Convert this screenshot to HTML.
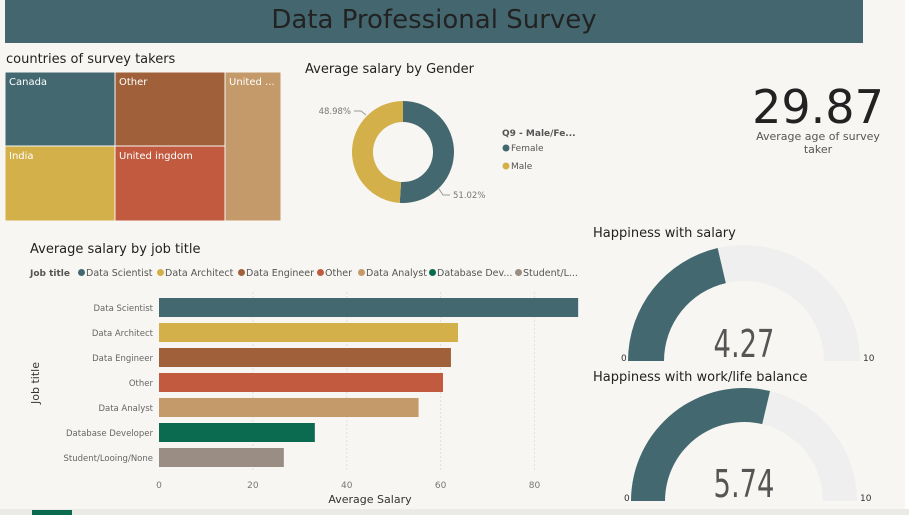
<!DOCTYPE html>
<html><head><meta charset="utf-8">
<style>
body{margin:0;width:909px;height:515px;background:#f7f6f2;overflow:hidden;font-family:"DejaVu Sans","Liberation Sans",sans-serif;position:relative}
.abs{position:absolute}
</style></head>
<body>
<div class="abs" style="left:905px;top:0;width:4px;height:515px;background:#fff"></div>
<div class="abs" style="left:0;top:509px;width:909px;height:6px;background:#eceae6"></div>
<div class="abs" style="left:32px;top:510px;width:40px;height:5px;background:#0a6b50"></div>
<div class="abs" style="left:5px;top:0;width:858px;height:43px;background:#44676f;color:#222;font-size:26px;text-align:center;line-height:40px">Data Professional Survey</div>
<div class="abs" style="left:6px;top:52px;font-size:13px;color:#222">countries of survey takers</div>
<div class="abs" style="left:305px;top:62px;font-size:13px;color:#222">Average salary by Gender</div>
<div class="abs" style="left:30px;top:242px;font-size:13px;color:#222">Average salary by job title</div>
<div class="abs" style="left:740px;top:80px;width:156px;text-align:center;font-size:46px;color:#222">29.87</div>
<div class="abs" style="left:740px;top:130px;width:156px;text-align:center;font-size:11px;line-height:13px;color:#555">Average age of survey<br>taker</div>
<div class="abs" style="left:593px;top:226px;font-size:13px;color:#222">Happiness with salary</div>
<div class="abs" style="left:593px;top:370px;font-size:13px;color:#222">Happiness with work/life balance</div>
<svg class="abs" style="left:0;top:0" width="909" height="515" id="svg"></svg>
<script>
const countries=["Canada","Other","United ...","India","United ingdom"];
const genderLabels=["Female","Male"];
const genderValues=[51.02,48.98];
const jobTitles=["Data Scientist","Data Architect","Data Engineer","Other","Data Analyst","Database Developer","Student/Looing/None"];
const jobSalary=[89.3,63.7,62.2,60.5,55.3,33.2,26.6];
const xTicks=[0,20,40,60,80];
const gaugeValues=[4.27,5.74];
const gaugeMax=10;
const legendLabels=["Data Scientist","Data Architect","Data Engineer","Other","Data Analyst","Database Dev...","Student/L..."];

const NS="http://www.w3.org/2000/svg";
const svg=document.getElementById('svg');
function mk(t,a,p){const e=document.createElementNS(NS,t);for(const k in a)e.setAttribute(k,a[k]);(p||svg).appendChild(e);return e;}
const jobColors=["#436870","#d4b04a","#a0613a","#c15a3e","#c49a6a","#0a6b50","#9a8e84"];

// treemap
const tm=[[5,72,110,74,"#436870"],[115,72,110,74,"#a0613a"],[225,72,56,149,"#c49a6a"],[5,146,110,75,"#d4b04a"],[115,146,110,75,"#c15a3e"]];
tm.forEach((r,i)=>{const e=mk('rect',{x:r[0],y:r[1],width:r[2],height:r[3],fill:r[4],stroke:'#f7f6f2','stroke-width':1});


const t=mk('text',{x:r[0]+4,y:r[1]+13,'font-size':10,fill:'#fff','font-family':'DejaVu Sans,sans-serif'});t.textContent=countries[i];

});

// donut
const cx=403,cy=152,R=51,r=30;
const tot=genderValues.reduce((a,b)=>a+b,0);let a0=0;
const gcol=["#436870","#d4b04a"];
const lblPos=[[453,198,'start'],[351,114,'end']];
genderValues.forEach((v,i)=>{const a1=a0+v/tot*2*Math.PI;
const p=(a,rr)=>[cx+rr*Math.sin(a),cy-rr*Math.cos(a)];
const [x1,y1]=p(a0,R),[x2,y2]=p(a1,R),[x3,y3]=p(a1,r),[x4,y4]=p(a0,r);const lg=(a1-a0)>Math.PI?1:0;
const e=mk('path',{d:`M${x1} ${y1}A${R} ${R} 0 ${lg} 1 ${x2} ${y2}L${x3} ${y3}A${r} ${r} 0 ${lg} 0 ${x4} ${y4}Z`,fill:gcol[i]});


const t=mk('text',{x:lblPos[i][0],y:lblPos[i][1],'font-size':8.5,fill:'#777','text-anchor':lblPos[i][2],'font-family':'DejaVu Sans,sans-serif'});t.textContent=v.toFixed(2)+'%';


a0=a1;});
mk('path',{d:'M439 189 L443 195 L450 195',stroke:'#999',fill:'none'});
mk('path',{d:'M354 111 L361 111 L366 115',stroke:'#999',fill:'none'});
let lt=mk('text',{x:502,y:136,'font-size':9,'font-weight':'bold',fill:'#555','font-family':'DejaVu Sans,sans-serif'});lt.textContent='Q9 - Male/Fe...';
genderLabels.forEach((g,i)=>{const c=mk('circle',{cx:506,cy:148+i*18,r:3.5,fill:gcol[i]});


const t=mk('text',{x:511,y:151+i*18,'font-size':9,fill:'#555','font-family':'DejaVu Sans,sans-serif'});t.textContent=g;});

// bar chart
const x0=159,pxPer=(534.5-159)/80;
const X=v=>x0+v*pxPer;
xTicks.forEach(v=>{if(v>0)mk('line',{x1:X(v),x2:X(v),y1:292,y2:470,stroke:'#e2e0dc','stroke-dasharray':'2,2'});
const t=mk('text',{x:X(v),y:488,'font-size':9,fill:'#777','text-anchor':'middle','font-family':'DejaVu Sans,sans-serif'});t.textContent=v;

});
jobTitles.forEach((j,i)=>{const y=298+i*25;
const b=mk('rect',{x:x0,y:y,width:X(jobSalary[i])-x0,height:19,fill:jobColors[i]});


const t=mk('text',{x:153,y:y+13,'font-size':8.5,fill:'#666','text-anchor':'end','font-family':'DejaVu Sans,sans-serif'});t.textContent=j;

});
let at=mk('text',{x:370,y:503,'font-size':11,fill:'#333','text-anchor':'middle','font-family':'DejaVu Sans,sans-serif'});at.textContent='Average Salary';


let yt=mk('text',{x:0,y:0,'font-size':11,fill:'#333','text-anchor':'middle',transform:'translate(39,383) rotate(-90)','font-family':'DejaVu Sans,sans-serif'});yt.textContent='Job title';


// legend
let lx=30;let t0=mk('text',{x:lx,y:276,'font-size':9,'font-weight':'bold',fill:'#555','font-family':'DejaVu Sans,sans-serif'});t0.textContent='Job title';
lx=78;
const legW=[79,81,79,41,71,86,70];
legendLabels.forEach((l,i)=>{const c=mk('circle',{cx:lx+3.5,cy:272.5,r:3.5,fill:jobColors[i]});


const t=mk('text',{x:lx+8,y:276,'font-size':9.5,fill:'#555','font-family':'DejaVu Sans,sans-serif'});t.textContent=l;lx+=legW[i];});

// gauges
const gs=[[744,361,116,80],[744,501,113,79]];
gaugeValues.forEach((v,i)=>{const [gx,gy,R2,r2]=gs[i];
const arc=(f0,f1,col,nm)=>{const a=f=>Math.PI*(1-f);
const P=(f,rr)=>[gx+rr*Math.cos(a(f)),gy-rr*Math.sin(a(f))];
const [x1,y1]=P(f0,R2),[x2,y2]=P(f1,R2),[x3,y3]=P(f1,r2),[x4,y4]=P(f0,r2);
const e=mk('path',{d:`M${x1} ${y1}A${R2} ${R2} 0 0 1 ${x2} ${y2}L${x3} ${y3}A${r2} ${r2} 0 0 0 ${x4} ${y4}Z`,fill:col});

};
arc(0,1,'#efefef','gauge-track');
arc(0,v/gaugeMax,'#436870','gauge-fill');
const t=mk('text',{x:gx,y:gy-4,'font-size':38,fill:'#555','text-anchor':'middle','font-family':'DejaVu Sans Condensed,DejaVu Sans,sans-serif','font-weight':'200',transform:`translate(${gx} 0) scale(0.8 1) translate(${-gx} 0)`});t.textContent=v.toFixed(2);


const t1=mk('text',{x:gx-R2-7,y:gy,'font-size':9,fill:'#333','font-family':'DejaVu Sans,sans-serif'});t1.textContent='0';
const t2=mk('text',{x:gx+R2+3,y:gy,'font-size':9,fill:'#333','font-family':'DejaVu Sans,sans-serif'});t2.textContent=gaugeMax;});
</script>
</body></html>
